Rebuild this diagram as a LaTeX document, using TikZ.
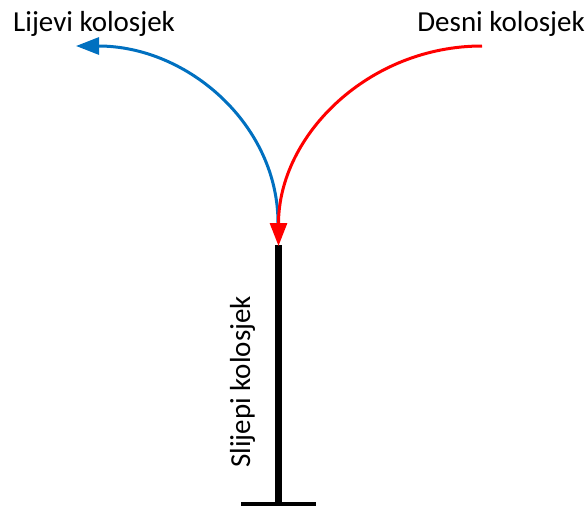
\documentclass[tikz,border=0pt]{standalone}
\usepackage{fontspec}
\setmainfont{Carlito}
\usetikzlibrary{arrows.meta}
\definecolor{tblue}{HTML}{0070C0}
\definecolor{tred}{HTML}{FF0000}
\tikzset{
  lbl/.style={inner sep=0pt, font=\fontsize{29}{33}\selectfont},
  track/.style={line width=3pt, -{Triangle[length=23pt,width=17pt]}},
}
\begin{document}
\begin{tikzpicture}[x=1pt,y=-1pt]
\useasboundingbox (0,0) rectangle (588,506);
% labels
\node[lbl, anchor=base west] (lijevi) at (13,31) {Lijevi kolosjek};
\node[lbl, anchor=base east] (desni) at (585,31) {Desni kolosjek};
\node[lbl, anchor=base west, rotate=90] (slijepi) at (250,468) {Slijepi kolosjek};
% coordinates
\coordinate (rstart) at (482,46);
\coordinate (rend) at (278.5,246);
\coordinate (bstart) at (278,223);
\coordinate (bend) at (76,46);
\coordinate (stop) at (278.5,245);
\coordinate (sbot) at (278.5,506);
\coordinate (bl) at (241,504);
\coordinate (br) at (316,504);
% dead-end track
\draw[line width=7pt] (stop) -- (sbot);
\draw[line width=4pt] (bl) -- (br);
% curves
\draw[track, tblue] (bstart) .. controls (278,125) and (188,46) .. (bend);
\draw[track, tred] (rstart) .. controls (369,46) and (278.5,135) .. (rend);
\end{tikzpicture}
\end{document}
